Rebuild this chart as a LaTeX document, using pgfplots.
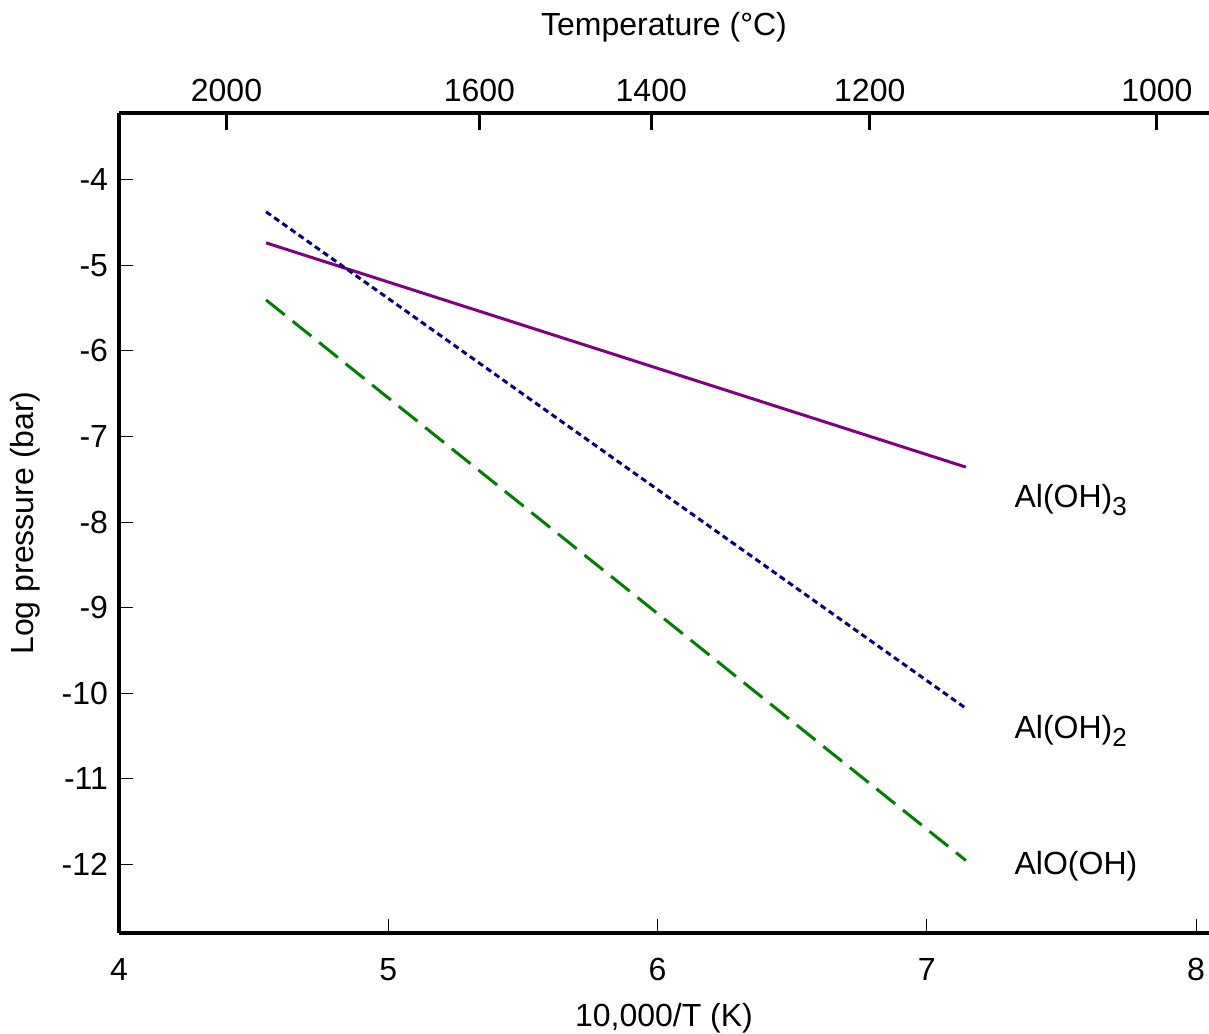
\documentclass[border=0pt]{standalone}
\usepackage{pgfplots}
\pgfplotsset{compat=1.18}
\usepackage{fontspec}
\setmainfont{Liberation Sans}
\definecolor{alpurple}{RGB}{128,0,128}
\definecolor{alnavy}{RGB}{0,0,128}
\definecolor{algreen}{RGB}{0,128,0}
\newcommand{\sub}[1]{\raisebox{-0.45ex}{\fontsize{13bp}{15bp}\selectfont #1}}

\pgfplotsset{
  base/.style={
    width=545bp, height=410bp, scale only axis,
    xmin=4, xmax=8.048, ymin=-12.8, ymax=-3.22,
    font=\fontsize{16bp}{19bp}\selectfont,
    /pgf/number format/assume math mode=true,
    axis line style={line width=2bp, -},
    tick align=inside,
  },
}

\begin{document}
\begin{tikzpicture}
  % main axis: 10,000/T vs log pressure
  \begin{axis}[base,
    at={(0,0)}, anchor=south west,
    axis x line*=bottom, axis y line*=left,
    xtick={4,5,6,7,8}, ytick={-12,-11,...,-4},
    major tick length=7bp,
    every tick/.style={line width=0.5bp, black},
    xticklabel style={yshift=-9bp},
    yticklabel style={xshift=-2bp},
    xlabel={10,000/T (K)},
    ylabel={Log pressure (bar)},
    xlabel style={yshift=-4.5bp},
    ylabel style={yshift=4bp},
    clip=false,
  ]
    \addplot[alpurple, line width=1.5bp] coordinates {(4.546,-4.737) (7.145,-7.357)};
    \addplot[alnavy, line width=1.5bp, dash pattern=on 3bp off 2bp] coordinates {(4.546,-4.374) (7.145,-10.175)};
    \addplot[algreen, line width=1.5bp, dash pattern=on 12bp off 5bp] coordinates {(4.546,-5.404) (7.145,-11.953)};
    \node[anchor=west] at (axis cs:7.30,-7.74) {Al(OH)\sub{3}};
    \node[anchor=west] at (axis cs:7.30,-10.44) {Al(OH)\sub{2}};
    \node[anchor=west] at (axis cs:7.30,-12.02) {AlO(OH)};
  \end{axis}
  % top axis: temperature in degrees C
  \begin{axis}[base,
    at={(0,0)}, anchor=south west,
    axis x line*=top, axis y line=none,
    xtick={4.39919,5.33860,5.97675,6.78817,7.85453},
    xticklabels={2000,1600,1400,1200,1000},
    major tick length=8.5bp,
    every tick/.style={line width=1.5bp, black},
    xticklabel style={yshift=2bp},
    xlabel={Temperature (°C)},
    xlabel style={yshift=11.5bp},
  ]
    \addplot[draw=none] coordinates {(5,-5)};
  \end{axis}
  \pgfresetboundingbox
  \path (-59.5bp,-50.5bp) rectangle (545bp,466.5bp);
\end{tikzpicture}
\end{document}
